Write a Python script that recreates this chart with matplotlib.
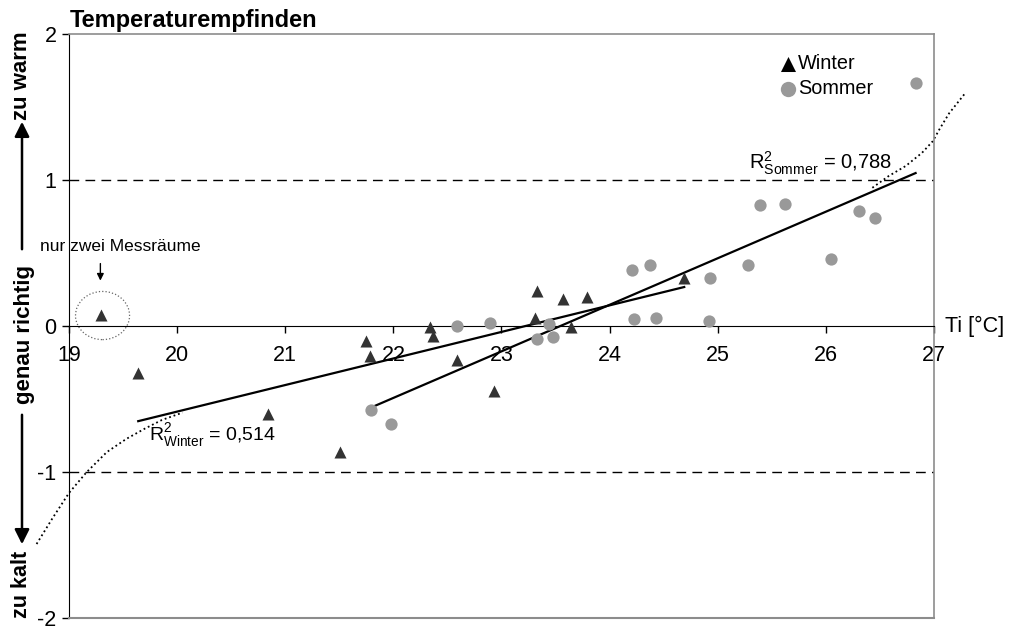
import numpy as np
import matplotlib
matplotlib.use('Agg')
import matplotlib.pyplot as plt
from matplotlib.patches import Ellipse

plt.rcParams['font.family'] = ['Liberation Sans', 'DejaVu Sans']
plt.rcParams['mathtext.fontset'] = 'custom'
plt.rcParams['mathtext.rm'] = 'Liberation Sans'
plt.rcParams['axes.unicode_minus'] = False

# Winter measurements (first point = room with only two measurements, not in fit)
winter_x = [19.30, 19.64, 20.84, 21.51, 21.75, 21.78, 22.34, 22.37, 22.59, 22.93,
            23.33, 23.31, 23.57, 23.64, 23.79, 24.69]
winter_y = [0.08, -0.32, -0.60, -0.86, -0.10, -0.20, -0.005, -0.066, -0.23, -0.44,
            0.24, 0.055, 0.185, -0.005, 0.20, 0.33]

# Summer measurements
sommer_x = [21.79, 21.98, 22.59, 22.89, 23.33, 23.44, 23.48, 24.21, 24.37, 24.23,
            24.43, 24.93, 24.92, 25.28, 25.39, 25.62, 26.05, 26.31, 26.45, 26.83]
sommer_y = [-0.57, -0.67, 0.0, 0.025, -0.085, 0.02, -0.07, 0.39, 0.42, 0.05,
            0.057, 0.33, 0.04, 0.42, 0.83, 0.84, 0.46, 0.79, 0.74, 1.67]

# dotted comfort curve, only the two visible ends
curve_left_x = [18.70, 18.85, 19.00, 19.16, 19.35, 19.53, 19.70, 19.86, 20.05]
curve_left_y = [-1.49, -1.31, -1.14, -1.00, -0.86, -0.77, -0.70, -0.64, -0.59]
curve_right_x = [26.43, 26.58, 26.74, 26.89, 26.99, 27.05, 27.14, 27.28]
curve_right_y = [0.95, 1.03, 1.10, 1.19, 1.27, 1.35, 1.46, 1.59]

xticks = [19, 20, 21, 22, 23, 24, 25, 26, 27]
yticks = [-2, -1, 0, 1, 2]

fig = plt.figure(figsize=(10.12, 6.26), dpi=100)
ax = fig.add_axes([0.0682, 0.012, 0.8547, 0.9329])
ax.set_xlim(19, 27)
ax.set_ylim(-2, 2)

# frame
ax.spines['bottom'].set_position(('data', 0))
ax.spines['bottom'].set_color('black')
ax.spines['left'].set_color('black')
for s in ['top', 'right']:
    ax.spines[s].set_color('#8c8c8c')
    ax.spines[s].set_linewidth(1.2)
ax.axhline(-2, color='#8c8c8c', lw=1.5, clip_on=False, zorder=3)

ax.set_xticks(xticks)
ax.set_yticks(yticks)
ax.tick_params(axis='x', direction='out', length=5, width=1, pad=8, labelsize=15.5)
ax.tick_params(axis='y', direction='out', length=5, width=1, pad=4, labelsize=15.5)

# dashed limits
for yl in [1, -1]:
    ax.axhline(yl, color='black', lw=1, dashes=(7, 4.5), zorder=1)

# regression lines
wx = np.array(winter_x[1:])
wy = np.array(winter_y[1:])
kw, dw = np.polyfit(wx, wy, 1)
xw = np.array([wx.min(), wx.max()])
ax.plot(xw, kw * xw + dw, color='black', lw=1.6, zorder=2)

sx = np.array(sommer_x)
sy = np.array(sommer_y)
ks, ds = np.polyfit(sx, sy, 1)
xs = np.array([sx.min(), sx.max()])
ax.plot(xs, ks * xs + ds, color='black', lw=1.6, zorder=2)

ax.plot(curve_left_x, curve_left_y, color='black', lw=1.3, ls=(0, (1, 1.6)), clip_on=False)
ax.plot(curve_right_x, curve_right_y, color='black', lw=1.3, ls=(0, (1, 1.6)), clip_on=False)

ax.scatter(winter_x, winter_y, marker='^', s=75, color='#333333', lw=0, zorder=4, label='Winter')
ax.scatter(sommer_x, sommer_y, marker='o', s=78, color='#999999', lw=0, zorder=4, label='Sommer')

leg = ax.legend(loc='upper left', bbox_to_anchor=(0.822, 0.966), frameon=False, fontsize=14.3,
                handlelength=0.8, handletextpad=0.12, labelspacing=0.3, borderpad=0,
                borderaxespad=0, markerscale=1.25)
leg.legend_handles[0].set_color('black')

# R² labels
ax.text(19.74, -0.75, r'R$^{2}_{\mathrm{Winter}}$ = 0,514', fontsize=14, ha='left', va='center')
ax.text(25.29, 1.12, r'R$^{2}_{\mathrm{Sommer}}$ = 0,788', fontsize=14.5, ha='left', va='center')

# note on the two-room point
ax.add_patch(Ellipse((19.31, 0.075), 0.5, 0.33, fill=False, ls=':', ec='#666666', lw=0.9))
ax.text(18.73, 0.55, 'nur zwei Messräume', fontsize=12.5, ha='left', va='center', clip_on=False)
ax.annotate('', xy=(19.29, 0.295), xytext=(19.29, 0.45),
            arrowprops=dict(arrowstyle='-|>', color='black', lw=1, mutation_scale=10))

ax.text(27.10, 0, 'Ti [°C]', fontsize=15.5, ha='left', va='center', clip_on=False)

fig.text(0.069, 1 - 20 / 626, 'Temperaturempfinden', fontsize=17, fontweight='bold',
         ha='left', va='center')

# y-axis meaning labels with arrows
fig.text(22 / 1012, 1 - 76 / 626, 'zu warm', rotation=90, fontsize=16, fontweight='bold',
         ha='center', va='center')
fig.text(25 / 1012, 1 - 334 / 626, 'genau richtig', rotation=90, fontsize=16, fontweight='bold',
         ha='center', va='center')
fig.text(22 / 1012, 1 - 584 / 626, 'zu kalt', rotation=90, fontsize=15.5, fontweight='bold',
         ha='center', va='center')
arrow = dict(arrowstyle='-|>', color='black', lw=1.8, mutation_scale=22)
ax.annotate('', xy=(22 / 1012, 1 - 119 / 626), xytext=(22 / 1012, 1 - 252 / 626),
            xycoords='figure fraction', textcoords='figure fraction', arrowprops=arrow)
ax.annotate('', xy=(22 / 1012, 1 - 547 / 626), xytext=(22 / 1012, 1 - 412 / 626),
            xycoords='figure fraction', textcoords='figure fraction', arrowprops=arrow)

fig.savefig('out.png', dpi=100)
